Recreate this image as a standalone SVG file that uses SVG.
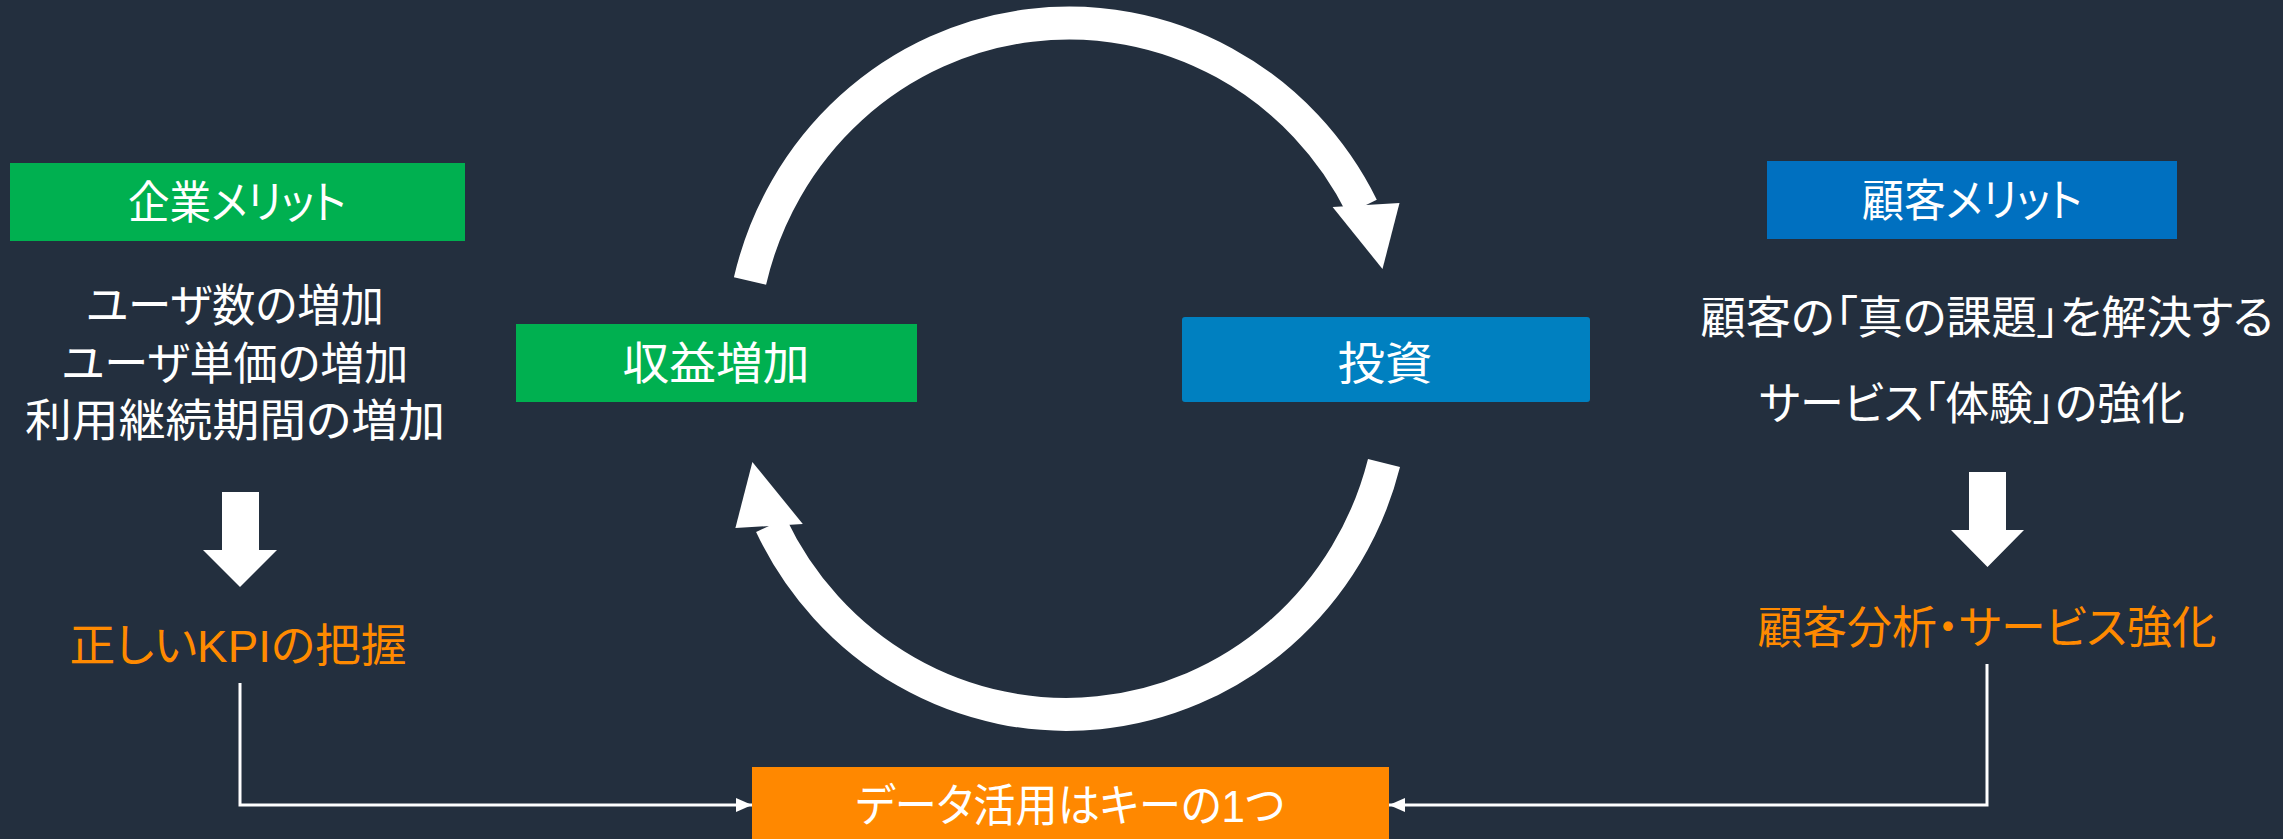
<svg xmlns="http://www.w3.org/2000/svg" width="2283" height="839" viewBox="0 0 2283 839">
<defs>
<style>
text{font-family:"Liberation Sans","Noto Sans CJK JP",sans-serif;font-feature-settings:"palt";text-anchor:middle;font-size:45px;}
.w{fill:#ffffff;}
.o{fill:#FF8A00;}
.cycle{fill:none;stroke:#ffffff;stroke-width:33;stroke-linecap:butt;}
.head{fill:#ffffff;}
.conn{fill:none;stroke:#ffffff;stroke-width:3;}
</style>
<marker id="tip" viewBox="0 0 16 14" refX="16" refY="7" markerWidth="16" markerHeight="14" markerUnits="userSpaceOnUse" orient="auto">
<path d="M0 0 L16 7 L0 14 Z" fill="#ffffff"/>
</marker>
</defs>
<rect x="0" y="0" width="2283" height="839" fill="#232F3E"/>

<g id="cycle-arrows">
<path class="cycle" d="M750 281 A328 335 0 0 1 1362 207"/>
<polygon class="head" points="1332.6,207 1399.5,203 1382.5,269"/>
<path class="cycle" d="M1384 463 A328 335 0 0 1 771 525"/>
<polygon class="head" points="735.4,528 802.8,524 752.4,462"/>
</g>

<g id="connectors">
<path class="conn" d="M240 683 V805 H752" marker-end="url(#tip)"/>
<path class="conn" d="M1987 664 V805 H1389" marker-end="url(#tip)"/>
</g>

<g id="company-merit">
<rect x="10" y="163" width="455" height="78" fill="#00B050"/>
<text class="w" x="237" y="219" textLength="218" lengthAdjust="spacingAndGlyphs">企業メリット</text>
</g>

<g id="company-items">
<text class="w" x="235" y="322" textLength="298" lengthAdjust="spacingAndGlyphs">ユーザ数の増加</text>
<text class="w" x="235" y="380" textLength="347" lengthAdjust="spacingAndGlyphs">ユーザ単価の増加</text>
<text class="w" x="235" y="437" textLength="420" lengthAdjust="spacingAndGlyphs">利用継続期間の増加</text>
</g>

<g id="company-down">
<polygon class="head" points="222,492 259,492 259,550 277,550 240,587 203,550 222,550"/>
</g>

<g id="kpi">
<text class="o" x="238" y="662" textLength="337" lengthAdjust="spacingAndGlyphs">正しいKPIの把握</text>
</g>

<g id="revenue">
<rect x="516" y="324" width="401" height="78" fill="#00B050"/>
<text class="w" x="716" y="380" textLength="187" lengthAdjust="spacingAndGlyphs">収益増加</text>
</g>

<g id="investment">
<rect x="1182" y="317" width="408" height="85" rx="3" fill="#0080C0"/>
<text class="w" x="1385" y="380" textLength="95" lengthAdjust="spacingAndGlyphs">投資</text>
</g>

<g id="customer-merit">
<rect x="1767" y="161" width="410" height="78" fill="#0070C0"/>
<text class="w" x="1972" y="217" textLength="220" lengthAdjust="spacingAndGlyphs">顧客メリット</text>
</g>

<g id="customer-items">
<text class="w" x="1987" y="334" textLength="573" lengthAdjust="spacingAndGlyphs">顧客の「真の課題」を解決する</text>
<text class="w" x="1972" y="420" textLength="426" lengthAdjust="spacingAndGlyphs">サービス「体験」の強化</text>
</g>

<g id="customer-down">
<polygon class="head" points="1969,472 2006,472 2006,530 2024,530 1987.5,567 1951,530 1969,530"/>
</g>

<g id="customer-analysis">
<text class="o" x="1987" y="644" textLength="459" lengthAdjust="spacingAndGlyphs">顧客分析・サービス強化</text>
</g>

<g id="data-key">
<rect x="752" y="767" width="637" height="72" fill="#FF8800"/>
<text class="w" x="1070" y="822" textLength="429" lengthAdjust="spacingAndGlyphs">データ活用はキーの1つ</text>
</g>
</svg>
